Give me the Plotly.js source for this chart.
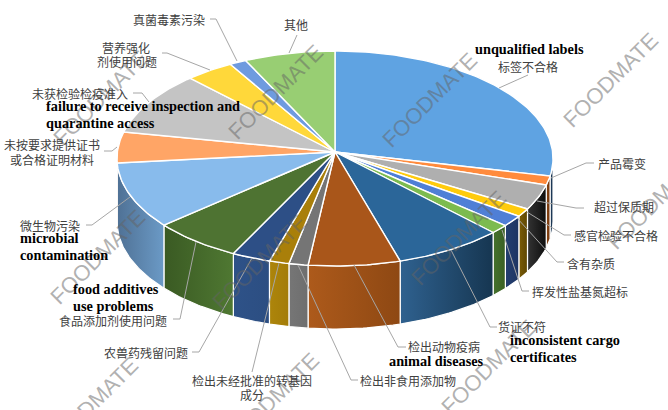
<!DOCTYPE html>
<html><head><meta charset="utf-8">
<script src="https://cdn.plot.ly/plotly-3.0.1.min.js"></script>
<style>html,body{margin:0;padding:0;background:#fff}#c{width:668px;height:410px}</style>
</head><body><div id="c"></div>
<script>
// Shares in degrees of the (foreshortened) pie, clockwise from 12 o'clock
const categories = ['标签不合格','产品霉变','超过保质期','感官检验不合格','含有杂质','挥发性盐基氮超标','货证不符','检出动物疫病','检出非食用添加物','检出未经批准的转基因成分','农兽药残留问题','食品添加剂使用问题','微生物污染','未按要求提供证书或合格证明材料','未获检验检疫准入','营养强化剂使用问题','真菌毒素污染','其他'];
const shares = [99.4,4.9,13.7,4.5,6.1,4.9,29.1,24.5,5.1,5.3,10.3,23.9,35.9,16.7,34.0,13.0,4.5,24.2];
const topColors = ['#5FA3E2','#FF8B3D','#AFAFAF','#FFCB0C','#4F7FD6','#7CBB4F','#2B6699','#A9561A','#757575','#A97F0A','#2D4F86','#4E7332','#88BBEC','#FFA566','#C4C4C4','#FFD83A','#6F9BDF','#98CE73'];
const sideLeft = ['#1F3D5C','#8A4512','#333333','#7B5C06','#243F70','#46722D','#2F618F','#AD5A1B','#767676','#AD850B','#2E5288','#3A5A23','#4F7195','#C07A45','#999999','#C0A020','#5070A0','#70A050'];
const sideRight = ['#1A3450','#703610','#0E0E0E','#5E4603','#1D3563','#3A6024','#163651','#8E4813','#6E6E6E','#A37C08','#2C4E82','#4F7832','#6B9AC6','#C07A45','#999999','#C0A020','#5070A0','#70A050'];

const cx = 335, cy = 158.5, rx = 218, ry = 107.5, apexY = 152, depth = 63;
const rim = a => { const r = a * Math.PI / 180; return [cx + rx * Math.sin(r), cy - ry * Math.cos(r)]; };

const sideTraces = [], topTraces = [];
let start = 0;
shares.forEach((v, i) => {
  const end = start + v;
  const xs = [cx], ys = [apexY];
  for (let a = start; a < end; a += 1) { const p = rim(a); xs.push(p[0]); ys.push(p[1]); }
  const pe = rim(end); xs.push(pe[0]); ys.push(pe[1]); xs.push(cx); ys.push(apexY);
  topTraces.push({type:'scatter',mode:'lines',x:xs,y:ys,fill:'toself',fillcolor:topColors[i],
    line:{color:'#fff',width:1.4},name:categories[i],hoverinfo:'name',showlegend:false});
  const a0 = Math.max(start, 90), a1 = Math.min(end, 270);
  if (a1 > a0) {
    const tx = [], ty = [];
    for (let a = a0; a < a1; a += 1) { const p = rim(a); tx.push(p[0]); ty.push(p[1]); }
    const pl = rim(a1); tx.push(pl[0]); ty.push(pl[1]);
    const bx = tx.slice().reverse(), by = ty.slice().reverse().map(y => y + depth);
    const sx = tx.concat(bx, [tx[0]]), sy = ty.concat(by, [ty[0]]);
    sideTraces.push({type:'scatter',mode:'lines',x:sx,y:sy,fill:'toself',
      fillgradient:{type:'horizontal',colorscale:[[0,sideLeft[i]],[1,sideRight[i]]]},
      line:{color:'#fff',width:1.2},name:categories[i],hoverinfo:'name',showlegend:false});
  }
  start = end;
});

const cn = {family:'"Noto Sans CJK SC", sans-serif', size:12, color:'#404040'};
const en = {family:'"Liberation Serif", serif', size:14.3, color:'#000'};
const labelsCN = [
 ['真菌毒素污染',169,19],['其他',296,24],['营养强化',126,47],['剂使用问题',127,61],
 ['未获检验检疫准入',80,93],['未按要求提供证书',52,144],['或合格证明材料',52,159],
 ['微生物污染',50,225],['食品添加剂使用问题',113,320],['农兽药残留问题',146,352],
 ['检出未经批准的转基因',252,380],['成分',252,394],['检出非食用添加物',408,380],
 ['检出动物疫病',444,346],['货证不符',522,326],['挥发性盐基氮超标',580,291],
 ['含有杂质',591,263],['感官检验不合格',616,235],['超过保质期',624,206],
 ['产品霉变',622,163],['标签不合格',528,66]];
const labelsEN = [
 ['unqualified labels',474,49],['failure to receive inspection and',45,106],['quarantine access',45,123],
 ['microbial',19,238],['contamination',19,255],['food additives',72,289],['use problems',72,306],
 ['animal diseases',388,361],['inconsistent cargo',509,340],['certificates',509,357]];
const watermarks = [[100,98],[275,92],[429,100],[610,80],[97,257],[259,262],[458,238],[654,202],[90,405],[271,400],[488,367],[672,358]];
const leaders = [
 [[210,19],[216,19],[237,61]],[[297,35],[289,53]],[[162,53],[167,53],[210,70]],
 [[133,93],[142,93],[149,102]],[[104,151],[112,151],[117,147]],[[86,225],[92,225],[130,197]],
 [[173,319],[180,319],[196,242]],[[192,352],[199,352],[252,258]],[[252,372],[279,263]],
 [[298,265],[351,380],[358,380]],[[406,347],[398,347],[354,265]],[[497,327],[490,327],[451,250]],
 [[529,291],[522,291],[502,230]],[[564,262],[557,262],[517,218]],[[571,235],[564,235],[527,212]],
 [[584,208],[576,208],[537,201]],[[594,163],[586,163],[551,178]],[[528,75],[499,88]]];

const annotations = [];
watermarks.forEach(w => annotations.push({x:w[0],y:w[1],xref:'x',yref:'y',text:'FOODMATE',showarrow:false,textangle:-45,
  font:{family:'"Liberation Sans", Arial, sans-serif',size:22,color:'rgba(100,100,100,0.5)'}}));
labelsCN.forEach(l => annotations.push({x:l[1],y:l[2],xref:'x',yref:'y',text:l[0],showarrow:false,xanchor:'center',yanchor:'middle',font:cn,borderpad:0}));
labelsEN.forEach(l => annotations.push({x:l[1],y:l[2],xref:'x',yref:'y',text:'<b>'+l[0]+'</b>',showarrow:false,xanchor:'left',yanchor:'middle',font:en,borderpad:0}));

const shapes = leaders.map(pts => ({type:'path',xref:'x',yref:'y',layer:'above',
  path:pts.map((p,i)=>(i?'L':'M')+p[0]+','+p[1]).join(' '),line:{color:'#A6A6A6',width:1}}));

Plotly.newPlot('c', sideTraces.concat(topTraces), {
  width:668,height:410,margin:{l:0,r:0,t:0,b:0},paper_bgcolor:'#fff',plot_bgcolor:'#fff',showlegend:false,
  xaxis:{range:[0,668],visible:false,fixedrange:true},
  yaxis:{range:[410,0],visible:false,fixedrange:true},
  annotations,shapes
},{displayModeBar:false,staticPlot:true});
</script></body></html>
